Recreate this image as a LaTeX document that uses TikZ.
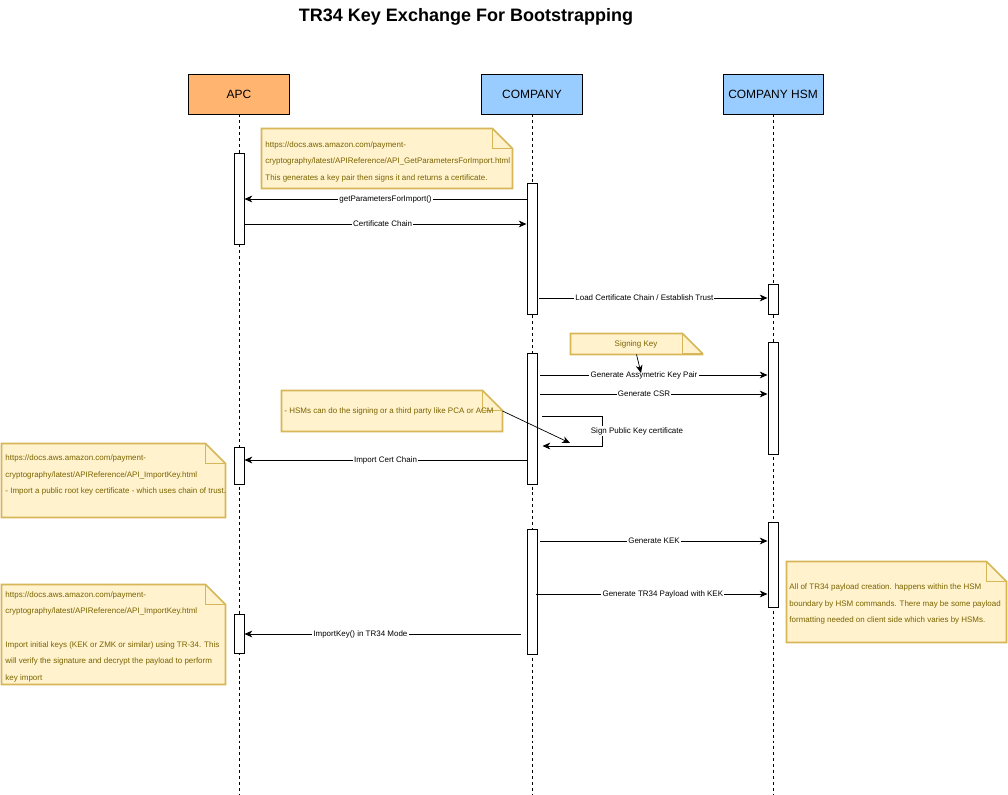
\documentclass[tikz,border=0pt]{standalone}
\usepackage{fontspec}
\setsansfont{Liberation Sans}
\usetikzlibrary{arrows.meta, positioning, fit}
\definecolor{capc}{HTML}{FFB570}
\definecolor{ccomp}{HTML}{99CCFF}
\definecolor{cnote}{HTML}{FFF2CC}
\definecolor{cnoteline}{HTML}{D6B656}
\definecolor{cnotetext}{HTML}{7A6400}
\tikzset{
  every picture/.style={font=\sffamily, line width=0.7pt},
  actor/.style={draw=black, fill=#1, minimum width=2.5cm, minimum height=1cm, font=\sffamily\fontsize{8.5}{10}\selectfont},
  actor/.default=ccomp,
  lifeline/.style={draw=black, line width=0.7pt, dash pattern=on 2.1pt off 2.1pt},
  bar/.style={draw=black, fill=white, minimum width=0.25cm, inner sep=0pt},
  msg/.style={-{Stealth[length=5.5pt, width=4.8pt, inset=1.6pt]}, draw=black, line width=0.7pt},
  ptr/.style={-{Stealth[length=5.5pt, width=4.8pt, inset=1.6pt]}, draw=black, line width=0.5pt},
  lbl/.style={fill=white, inner sep=0.8pt, font=\sffamily\fontsize{5.67}{6.5}\selectfont},
  notebg/.style={inner sep=0pt},
  notetext/.style={anchor=west, align=left, inner sep=0pt, text=cnotetext, font=\sffamily\fontsize{5.67}{11.8}\selectfont},
  noteline/.style={draw=cnoteline, fill=cnote, line width=1.1pt},
  title/.style={font=\sffamily\bfseries\fontsize{12.8}{15}\selectfont},
}
\newcommand{\notefold}[1]{%
  \draw[noteline] (#1.south west) -- (#1.north west) -- ([xshift=-0.5cm]#1.north east)
    -- ([yshift=-0.5cm]#1.north east) -- (#1.south east) -- cycle;
  \draw[noteline, fill=none] ([xshift=-0.5cm]#1.north east) -- ([xshift=-0.5cm, yshift=-0.5cm]#1.north east)
    -- ([yshift=-0.5cm]#1.north east);}
\begin{document}
\begin{tikzpicture}[x=0.025cm, y=-0.025cm]
  \useasboundingbox (0,0) rectangle (1008,795);
  \node[title] (ttl) at (466,17) {TR34 Key Exchange For Bootstrapping};

  % actors and lifelines
  \node[actor=capc] (apc) at (239,94) {APC};
  \node[actor] (comp) at (532,94) {COMPANY};
  \node[actor] (hsm) at (773,94) {COMPANY HSM};
  \draw[lifeline] (apc.south) -- (apc.south |- 0,795);
  \draw[lifeline] (comp.south) -- (comp.south |- 0,795);
  \draw[lifeline] (hsm.south) -- (hsm.south |- 0,795);

  % activation bars
  \node[bar, minimum height=2.25cm] (apcA) at (239,199) {};
  \node[bar, minimum height=0.925cm] (apcB) at (239,465.5) {};
  \node[bar, minimum height=0.975cm] (apcC) at (239,633.5) {};
  \node[bar, minimum height=3.25cm] (coA) at (532,249) {};
  \node[bar, minimum height=3.25cm] (coB) at (532,419) {};
  \node[bar, minimum height=3.1cm] (coC) at (532,592) {};
  \node[bar, minimum height=0.75cm] (hsmA) at (773,299) {};
  \node[bar, minimum height=2.775cm] (hsmB) at (773,398.5) {};
  \node[bar, minimum height=2.1cm] (hsmC) at (773,565) {};

  % notes
  \node[notebg, fit={(262,129) (512,188)}] (nparams) {};
  \notefold{nparams}
  \node[notetext] (nparamst) at (265,161.7) {https://docs.aws.amazon.com/payment-\\cryptography/latest/APIReference/API\_GetParametersForImport.html\\This generates a key pair then signs it and returns a certificate.};

  \node[notebg, fit={(571,334) (702,354)}] (nskey) {};
  \notefold{nskey}
  \node[notetext, anchor=center] (nskeyt) at (636,344) {Signing Key};

  \node[notebg, fit={(282,391) (502,431)}] (nsign) {};
  \notefold{nsign}
  \node[notetext] (nsignt) at (284,411) {- HSMs can do the signing or a third party like PCA or ACM};

  \node[notebg, fit={(2,444) (225,517)}] (ncert) {};
  \notefold{ncert}
  \node[notetext] (ncertt) at (5,475) {https://docs.aws.amazon.com/payment-\\cryptography/latest/APIReference/API\_ImportKey.html\\- Import a public root key certificate - which uses chain of trust.};

  \node[notebg, fit={(2,585) (225,684)}] (nimport) {};
  \notefold{nimport}
  \node[notetext] (nimportt) at (5,636.7) {https://docs.aws.amazon.com/payment-\\cryptography/latest/APIReference/API\_ImportKey.html\\[11.8pt]Import initial keys (KEK or ZMK or similar) using TR-34. This\\will verify the signature and decrypt the payload to perform\\key import};

  \node[notebg, fit={(787,562) (1006,642)}] (npayload) {};
  \notefold{npayload}
  \node[notetext] (npayloadt) at (789,604.3) {All of TR34 payload creation. happens within the HSM\\boundary by HSM commands. There may be some payload\\formatting needed on client side which varies by HSMs.};

  % messages
  \draw[msg] (coA.west |- 0,199) -- (apcA.east |- 0,199) node[lbl, pos=0.5] {getParametersForImport()};
  \draw[msg] (apcA.east |- 0,224) -- (coA.west |- 0,224) node[lbl, pos=0.49] {Certificate Chain};
  \draw[msg] (coA.east |- 0,298) ++(2,0) -- (hsmA.west |- 0,298) node[lbl, pos=0.46] {Load Certificate Chain / Establish Trust};
  \draw[msg] (coB.east |- 0,375) ++(3,0) -- (hsmB.west |- 0,375) node[lbl, pos=0.456] {Generate Assymetric Key Pair};
  \draw[msg] (coB.east |- 0,394) ++(3,0) -- (hsmB.west |- 0,394) node[lbl, pos=0.456] {Generate CSR};
  \draw[msg] (coB.east |- 0,416) ++(5,0) -- ++(60,0) -- ++(0,30) -- ++(-60,0);
  \node[lbl] (signlbl) at (637,431) {Sign Public Key certificate};
  \draw[msg] (coB.west |- 0,460) -- (apcB.east |- 0,460) node[lbl, pos=0.5] {Import Cert Chain};
  \draw[msg] (coC.east |- 0,541) ++(3,0) -- (hsmC.west |- 0,541) node[lbl, pos=0.5] {Generate KEK};
  \draw[msg] (coC.east |- 0,594) ++(-1,0) -- (hsmC.west |- 0,594) node[lbl, pos=0.547] {Generate TR34 Payload with KEK};
  \draw[msg] (coC.west |- 0,634) ++(-6,0) -- (apcC.east |- 0,634) node[lbl, pos=0.58] {ImportKey() in TR34 Mode};

  % note pointers
  \coordinate (skeytip) at (641,373);
  \coordinate (signtip) at (570,443);
  \draw[ptr] (nskey.south) -- (skeytip);
  \draw[ptr] (nsign.east) -- (signtip);
\end{tikzpicture}
\end{document}
